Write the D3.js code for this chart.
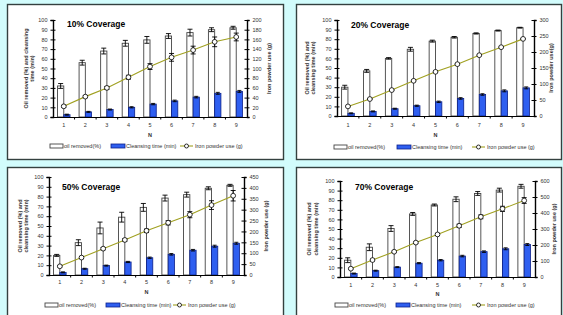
<!DOCTYPE html>
<html>
<head>
<meta charset="utf-8">
<script src="https://cdn.jsdelivr.net/npm/d3@7"></script>
<style>
  body { margin: 0; background: #d2fcfc; }
  svg { display: block; font-family: "Liberation Sans", Arial, sans-serif; }
</style>
</head>
<body>
<svg width="563" height="315"></svg>
<script>
// categories (N)
var cats = [1, 2, 3, 4, 5, 6, 7, 8, 9];

// 10% coverage
var oil10 = [32, 56, 68, 76, 79.5, 83.5, 87, 90, 92];
var oilErr10 = [2.5, 2.5, 3, 3, 3.5, 2.5, 3.5, 2, 1.5];
var clean10 = [2.4, 5.3, 7.7, 10, 13.3, 16.6, 20.5, 24.4, 26.4];
var iron10 = [22, 42, 60, 82, 104, 123, 138, 155, 165];
var ironErr10 = [2, 2, 3, 4, 6, 8, 8, 10, 8];

// 20% coverage
var oil20 = [30, 47, 60, 69.5, 78, 82, 86, 89, 92];
var oilErr20 = [2, 1.5, 0.8, 2, 1, 0.8, 0.6, 0.5, 0.4];
var clean20 = [2.8, 4.8, 7.6, 10.7, 14.8, 18.3, 22.4, 26.2, 29.3];
var iron20 = [30, 53, 81, 110, 138, 162, 190, 215, 241];
var ironErr20 = [1, 1, 1, 1, 1, 1, 1, 1, 1];

// 50% coverage
var oil50 = [20, 33, 48, 59, 69, 78.5, 82, 88.5, 91.5];
var oilErr50 = [1, 3, 6, 5, 4, 3, 2.5, 1.5, 1];
var clean50 = [2.7, 6.4, 9.6, 13.3, 17.6, 21.1, 25.3, 29.4, 32.4];
var iron50 = [40, 80, 121, 161, 203, 240, 277, 321, 364];
var ironErr50 = [3, 4, 5, 6, 8, 10, 14, 20, 24];

// 70% coverage
var oil70 = [17.5, 31, 50.5, 65.7, 75, 81, 87, 90.5, 94.5];
var oilErr70 = [2.5, 3.5, 3, 1.5, 1, 2.5, 2, 2, 2];
var clean70 = [3.6, 6.6, 10.3, 14.4, 17.5, 21.8, 26.4, 29.4, 33.8];
var iron70 = [52, 106, 158, 215, 266, 320, 376, 426, 478];
var ironErr70 = [4, 4, 4, 5, 6, 10, 12, 16, 18];

var cleanErr = [0.5, 0.5, 0.5, 0.6, 0.7, 0.8, 0.8, 1, 1];

var legendNames = ["oil removed(%)", "Cleansing time (min)", "Iron powder use (g)"];

var panels = [
  { title: "10% Coverage", oil: oil10, oilErr: oilErr10, clean: clean10, iron: iron10, ironErr: ironErr10,
    rmax: 200, rstep: 20, box: [7, 4, 276, 155], x0: 53, x1: 247, yt: 20, yb: 117,
    titlePos: [67, 27], leftLabel: ["Oil removed (%) and cleansing", "time (min)"], leftX: [27, 33],
    rightLabel: "Iron powder use (g)", rightX: 270, tickY: 127, nY: 137, legY: 146, legX: [50, 111, 180] },
  { title: "20% Coverage", oil: oil20, oilErr: oilErr20, clean: clean20, iron: iron20, ironErr: ironErr20,
    rmax: 300, rstep: 50, box: [296, 4, 265, 155], x0: 337, x1: 534, yt: 20, yb: 116,
    titlePos: [351, 28], leftLabel: ["Oil removed (%) and", "cleansing time (min)"], leftX: [308, 314],
    rightLabel: "Iron powder use(g)", rightX: 552, tickY: 127, nY: 137, legY: 147, legX: [334, 397, 472] },
  { title: "50% Coverage", oil: oil50, oilErr: oilErr50, clean: clean50, iron: iron50, ironErr: ironErr50,
    rmax: 450, rstep: 50, box: [7, 167, 276, 160], x0: 49, x1: 244, yt: 177, yb: 275,
    titlePos: [62, 190], leftLabel: ["Oil removed (%) and", "cleansing time (min)"], leftX: [21, 27],
    rightLabel: "Iron powder use (g)", rightX: 267, tickY: 284, nY: 294, legY: 305, legX: [45, 106, 173] },
  { title: "70% Coverage", oil: oil70, oilErr: oilErr70, clean: clean70, iron: iron70, ironErr: ironErr70,
    rmax: 600, rstep: 100, box: [296, 167, 265, 160], x0: 340, x1: 535, yt: 181, yb: 277,
    titlePos: [355, 190], leftLabel: ["Oil removed (%) and", "cleansing time (min)"], leftX: [310, 317],
    rightLabel: "Iron powder use (g)", rightX: 555, tickY: 287, nY: 296, legY: 305, legX: [335, 396, 472] }
];

var svg = d3.select("svg");
var blue = "#2f5ff0", blueDark = "#0a1f8a", olive = "#a0a020";

function errBar(g, cx, y0, y1, w) {
  g.append("line").attr("x1", cx).attr("x2", cx).attr("y1", y0).attr("y2", y1)
    .attr("stroke", "#000").attr("stroke-width", 0.9);
  [y0, y1].forEach(function(y) {
    g.append("line").attr("x1", cx - w / 2).attr("x2", cx + w / 2).attr("y1", y).attr("y2", y)
      .attr("stroke", "#000").attr("stroke-width", 0.9);
  });
}

panels.forEach(function(p) {
  var g = svg.append("g");
  g.append("rect").attr("x", p.box[0] + 0.5).attr("y", p.box[1] + 0.5)
    .attr("width", p.box[2]).attr("height", p.box[3])
    .attr("fill", "#fff").attr("stroke", "#34403f").attr("stroke-width", 1.4);

  var x = d3.scaleBand().domain(cats).range([p.x0, p.x1]);
  var yL = d3.scaleLinear().domain([0, 100]).range([p.yb, p.yt]);
  var yR = d3.scaleLinear().domain([0, p.rmax]).range([p.yb, p.yt]);
  var bw = x.bandwidth() * 0.29;
  var cx = function(i) { return x(cats[i]) + x.bandwidth() / 2; };

  // oil removed bars
  g.selectAll(".oil").data(p.oil).enter().append("rect")
    .attr("x", function(d, i) { return cx(i) - bw; })
    .attr("y", function(d) { return yL(d); })
    .attr("width", bw).attr("height", function(d) { return p.yb - yL(d); })
    .attr("fill", "#fff").attr("stroke", "#444").attr("stroke-width", 0.9);
  // cleansing bars
  g.selectAll(".clean").data(p.clean).enter().append("rect")
    .attr("x", function(d, i) { return cx(i); })
    .attr("y", function(d) { return yL(d); })
    .attr("width", bw).attr("height", function(d) { return p.yb - yL(d); })
    .attr("fill", blue).attr("stroke", blueDark).attr("stroke-width", 0.8);

  p.oil.forEach(function(d, i) {
    errBar(g, cx(i) - bw / 2, yL(d - p.oilErr[i]), yL(d + p.oilErr[i]), 5);
    errBar(g, cx(i) + bw / 2, yL(p.clean[i] - cleanErr[i]), yL(p.clean[i] + cleanErr[i]), 4);
  });

  // iron powder line
  var line = d3.line().x(function(d, i) { return cx(i); }).y(function(d) { return yR(d); });
  g.append("path").datum(p.iron).attr("d", line)
    .attr("fill", "none").attr("stroke", olive).attr("stroke-width", 1.1);
  p.iron.forEach(function(d, i) {
    errBar(g, cx(i), yR(d - p.ironErr[i]), yR(d + p.ironErr[i]), 5);
  });
  g.selectAll(".pt").data(p.iron).enter().append("circle")
    .attr("cx", function(d, i) { return cx(i); })
    .attr("cy", function(d) { return yR(d); })
    .attr("r", 2.4).attr("fill", "#fff").attr("stroke", "#000").attr("stroke-width", 0.8);

  // axes
  var axL = g.append("g").attr("transform", "translate(" + p.x0 + ",0)")
    .call(d3.axisLeft(yL).ticks(10).tickSize(2.5).tickPadding(3));
  var axR = g.append("g").attr("transform", "translate(" + p.x1 + ",0)")
    .call(d3.axisRight(yR).tickValues(d3.range(0, p.rmax + 1, p.rstep)).tickSize(2.5).tickPadding(3));
  [axL, axR].forEach(function(a) {
    a.selectAll(".tick line").attr("x1", -2.5).attr("x2", 2.5).attr("stroke-width", 1);
    a.select(".domain").attr("stroke-width", 1.4);
    a.selectAll("text").attr("font-size", 5.5).attr("fill", "#333");
  });
  var axB = g.append("g").attr("transform", "translate(0," + p.yb + ")")
    .call(d3.axisBottom(x).tickSize(0).tickPadding(p.tickY - p.yb - 4));
  axB.select(".domain").attr("stroke-width", 1.2);
  axB.selectAll("text").attr("font-size", 5.5).attr("fill", "#333");
  g.selectAll(".bt").data(cats.slice(1)).enter().append("line")
    .attr("x1", function(d) { return x(d); }).attr("x2", function(d) { return x(d); })
    .attr("y1", p.yb).attr("y2", p.yb + 2.5).attr("stroke", "#000").attr("stroke-width", 1);

  g.append("text").attr("x", (p.x0 + p.x1) / 2).attr("y", p.nY).attr("text-anchor", "middle")
    .attr("font-size", 5.5).attr("font-weight", "bold").attr("fill", "#333").text("N");

  // title
  g.append("text").attr("x", p.titlePos[0]).attr("y", p.titlePos[1])
    .attr("font-size", 8.5).attr("font-weight", "bold").text(p.title);

  // axis labels
  var midY = (p.yt + p.yb) / 2;
  p.leftLabel.forEach(function(t, i) {
    g.append("text").attr("transform", "translate(" + p.leftX[i] + "," + midY + ") rotate(-90)")
      .attr("text-anchor", "middle").attr("dominant-baseline", "middle")
      .attr("font-size", 5.5).attr("font-weight", "bold").attr("fill", "#333").text(t);
  });
  g.append("text").attr("transform", "translate(" + p.rightX + "," + midY + ") rotate(-90)")
    .attr("text-anchor", "middle").attr("dominant-baseline", "middle")
    .attr("font-size", 5.5).attr("font-weight", "bold").attr("fill", "#333").text(p.rightLabel);

  // legend
  var ly = p.legY;
  g.append("rect").attr("x", p.legX[0]).attr("y", ly - 2).attr("width", 13).attr("height", 4)
    .attr("fill", "#fff").attr("stroke", "#444").attr("stroke-width", 0.9);
  g.append("rect").attr("x", p.legX[1]).attr("y", ly - 2).attr("width", 14).attr("height", 4)
    .attr("fill", blue).attr("stroke", blueDark).attr("stroke-width", 0.8);
  g.append("line").attr("x1", p.legX[2]).attr("x2", p.legX[2] + 13).attr("y1", ly).attr("y2", ly)
    .attr("stroke", olive).attr("stroke-width", 1.1);
  g.append("circle").attr("cx", p.legX[2] + 6.5).attr("cy", ly).attr("r", 2)
    .attr("fill", "#fff").attr("stroke", "#000").attr("stroke-width", 0.8);
  var offs = [14, 15, 15];
  legendNames.forEach(function(t, i) {
    g.append("text").attr("x", p.legX[i] + offs[i]).attr("y", ly).attr("dy", "0.35em")
      .attr("font-size", 5.5).attr("fill", "#333").text(t);
  });
});
</script>
</body>
</html>
